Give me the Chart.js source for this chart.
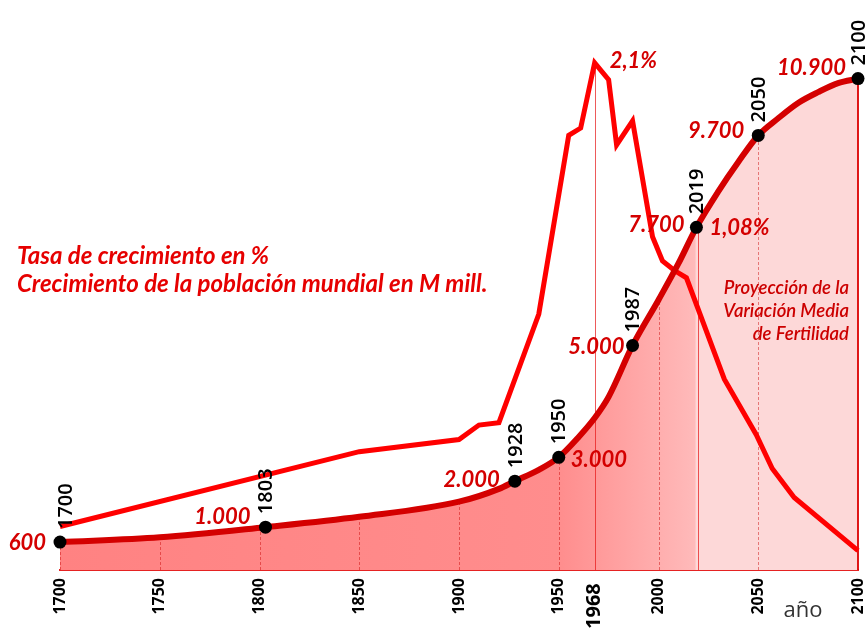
<!DOCTYPE html>
<html>
<head>
<meta charset="utf-8">
<script src="https://cdn.jsdelivr.net/npm/chart.js@4.4.0/dist/chart.umd.min.js"></script>
<style>
  html, body { margin: 0; padding: 0; background: #fff; }
  #wrap { width: 866px; height: 628px; position: relative; }
</style>
</head>
<body>
<div id="wrap"><canvas id="chart"></canvas></div>
<script>
// world population (millions)
const popYears  = [1700, 1750, 1803, 1850, 1900, 1920, 1928, 1940, 1950, 1960, 1968, 1975, 1987, 2000, 2010, 2019, 2030, 2040, 2050, 2060, 2070, 2080, 2090, 2100];
const popValues = [620, 725, 950, 1180, 1515, 1800, 1970, 2220, 2500, 2950, 3370, 3840, 4980, 5990, 6800, 7600, 8400, 9050, 9640, 10020, 10360, 10600, 10800, 10900];

// marked points on the population curve
const markYears  = [1700, 1803, 1928, 1950, 1987, 2019, 2050, 2100];
const markValues = [620, 950, 1970, 2500, 4980, 7600, 9640, 10900];
const markLabels = ['600', '1.000', '2.000', '3.000', '5.000', '7.700', '9.700', '10.900'];

// growth rate in %
const growthYears = [1700, 1850, 1900, 1910, 1920, 1940, 1955, 1961, 1968, 1975, 1979, 1987, 1997, 2002, 2008, 2014, 2033, 2049, 2057, 2068, 2100];
const growthRates = [0.18, 0.49, 0.54, 0.60, 0.61, 1.06, 1.80, 1.83, 2.10, 2.03, 1.76, 1.86, 1.38, 1.28, 1.24, 1.21, 0.79, 0.56, 0.42, 0.30, 0.08];

const tickYears = [1700, 1750, 1800, 1850, 1900, 1950, 1968, 2000, 2050, 2100];
const guideYears = [1700, 1750, 1800, 1850, 1900, 1950, 2000, 2050];

const RED = '#d40000';

function popAt(year) {
  for (let i = 1; i < popYears.length; i++) {
    if (year <= popYears[i]) {
      const t = (year - popYears[i - 1]) / (popYears[i] - popYears[i - 1]);
      return popValues[i - 1] + t * (popValues[i] - popValues[i - 1]);
    }
  }
  return popValues[popValues.length - 1];
}

function fillGradient(ctx) {
  const chart = ctx.chart;
  const area = chart.chartArea;
  if (!area) return '#ff8c8c';
  const xs = chart.scales.x;
  const f = y => (xs.getPixelForValue(y) - area.left) / (area.right - area.left);
  const g = chart.ctx.createLinearGradient(area.left, 0, area.right, 0);
  g.addColorStop(0, '#ff8282');
  g.addColorStop(f(1950), '#ff8d8d');
  g.addColorStop(f(2019) - 0.002, '#ffbaba');
  g.addColorStop(f(2019), '#fdd8d8');
  g.addColorStop(1, '#fdd8d8');
  return g;
}

function vtext(c, text, x, y) {
  c.save();
  c.translate(x, y);
  c.rotate(-Math.PI / 2);
  c.textAlign = 'left';
  c.textBaseline = 'middle';
  c.fillText(text, 0, 0);
  c.restore();
}

const overlay = {
  id: 'overlay',
  beforeDatasetsDraw(chart) {
    const c = chart.ctx, xs = chart.scales.x, ys = chart.scales.y, y2 = chart.scales.y2;
    const base = ys.getPixelForValue(0);
    c.save();
    c.lineWidth = 1;
    c.strokeStyle = 'rgba(200,0,0,0.45)';
    c.setLineDash([3, 2]);
    guideYears.forEach(yr => {
      const x = Math.round(xs.getPixelForValue(yr)) + 0.5;
      c.beginPath();
      c.moveTo(x, base);
      c.lineTo(x, ys.getPixelForValue(popAt(yr)));
      c.stroke();
    });
    c.setLineDash([]);
    c.strokeStyle = 'rgba(230,20,20,0.7)';
    let x = Math.round(xs.getPixelForValue(1968)) + 0.5;
    c.beginPath(); c.moveTo(x, base); c.lineTo(x, y2.getPixelForValue(2.1)); c.stroke();
    x = Math.round(xs.getPixelForValue(2019)) + 2.5;
    c.beginPath(); c.moveTo(x, base); c.lineTo(x, ys.getPixelForValue(7600)); c.stroke();
    c.lineWidth = 2;
    c.strokeStyle = 'rgba(220,0,0,0.9)';
    x = xs.getPixelForValue(2100);
    c.beginPath(); c.moveTo(x, base); c.lineTo(x, ys.getPixelForValue(10900)); c.stroke();
    c.restore();
  },
  afterDatasetsDraw(chart) {
    const c = chart.ctx, xs = chart.scales.x, ys = chart.scales.y, y2 = chart.scales.y2;
    c.save();
    // year labels above the dots
    c.fillStyle = '#000';
    c.font = '600 20px "Open Sans"';
    markYears.forEach((yr, i) => {
      const px = xs.getPixelForValue(yr), py = ys.getPixelForValue(markValues[i]);
      vtext(c, String(yr), px + (i === 0 ? 6 : 1), py - 13);
    });
    // population values
    c.fillStyle = RED;
    c.font = 'italic bold 22px Lato';
    c.textBaseline = 'middle';
    const offs = [[-14, 1, 'right'], [-15, -10, 'right'], [-15, -1, 'right'], [12, 3, 'left'],
                  [-8, 1, 'right'], [-12, -2, 'right'], [-14, -4, 'right'], [-12, -11, 'right']];
    markYears.forEach((yr, i) => {
      const px = xs.getPixelForValue(yr), py = ys.getPixelForValue(markValues[i]);
      c.textAlign = offs[i][2];
      c.fillText(markLabels[i], px + offs[i][0], py + offs[i][1]);
    });
    c.textAlign = 'left';
    c.fillText('1,08%', xs.getPixelForValue(2019) + 13, ys.getPixelForValue(7600) + 1);
    c.fillText('2,1%', xs.getPixelForValue(1968) + 15, y2.getPixelForValue(2.1) - 2);
    // legend text
    c.fillStyle = '#e60000';
    c.font = 'italic bold 24px Lato';
    c.fillText('Tasa de crecimiento en %', 17, 256);
    c.fillText('Crecimiento de la población mundial en M mill.', 17, 284);
    // projection note
    c.fillStyle = '#cc0000';
    c.font = 'italic 600 18.5px Lato';
    c.textAlign = 'right';
    c.fillText('Proyección de la', 849, 288);
    c.fillText('Variación Media', 849, 311);
    c.fillText('de Fertilidad', 849, 334);
    // axis title
    c.fillStyle = '#333';
    c.font = '22px "Open Sans"';
    c.textAlign = 'center';
    c.fillText('año', 803, 611);
    c.restore();
  }
};

new Chart(document.getElementById('chart'), {
  type: 'line',
  data: {
    datasets: [
      {
        label: 'hitos',
        data: markYears.map((x, i) => ({ x, y: markValues[i] })),
        showLine: false,
        pointRadius: 6.5,
        pointBackgroundColor: '#000',
        pointBorderColor: '#000',
        pointBorderWidth: 0,
        yAxisID: 'y',
        order: 0,
        clip: false
      },
      {
        label: 'Población mundial',
        data: popYears.map((x, i) => ({ x, y: popValues[i] })),
        borderColor: RED,
        borderWidth: 6,
        pointRadius: 0,
        fill: 'origin',
        backgroundColor: fillGradient,
        cubicInterpolationMode: 'monotone',
        yAxisID: 'y',
        order: 1,
        clip: false
      },
      {
        label: 'Tasa de crecimiento',
        data: growthYears.map((x, i) => ({ x, y: growthRates[i] })),
        borderColor: '#ff0000',
        borderWidth: 5,
        pointRadius: 0,
        fill: false,
        tension: 0,
        yAxisID: 'y2',
        order: 2,
        clip: false
      }
    ]
  },
  options: {
    responsive: true,
    maintainAspectRatio: false,
    animation: false,
    devicePixelRatio: 1,
    layout: { padding: { left: 60, right: 8, top: 29, bottom: 0 } },
    plugins: {
      legend: { display: false },
      tooltip: { enabled: false },
      filler: { drawTime: 'beforeDatasetsDraw' }
    },
    scales: {
      x: {
        type: 'linear',
        min: 1700,
        max: 2100,
        afterBuildTicks: s => { s.ticks = tickYears.map(v => ({ value: v })); },
        afterFit: s => { s.height = 58; s.paddingLeft = 0; s.paddingRight = 0; },
        grid: { display: false, drawTicks: false },
        border: { display: true, color: '#e52222', width: 2 },
        ticks: {
          autoSkip: false,
          minRotation: 90,
          maxRotation: 90,
          padding: 8,
          color: '#000',
          font: ctx => (ctx.tick && ctx.tick.value === 1968)
            ? { family: 'Open Sans', size: 20, weight: 'bold' }
            : { family: 'Open Sans', size: 16, weight: 'bold' },
          callback: v => v === 1968 ? '1968 ' : String(v)
        }
      },
      y: { display: false, min: 0, max: 12000 },
      y2: { display: false, min: 0, max: 2.24 }
    }
  },
  plugins: [overlay]
});
</script>
</body>
</html>
